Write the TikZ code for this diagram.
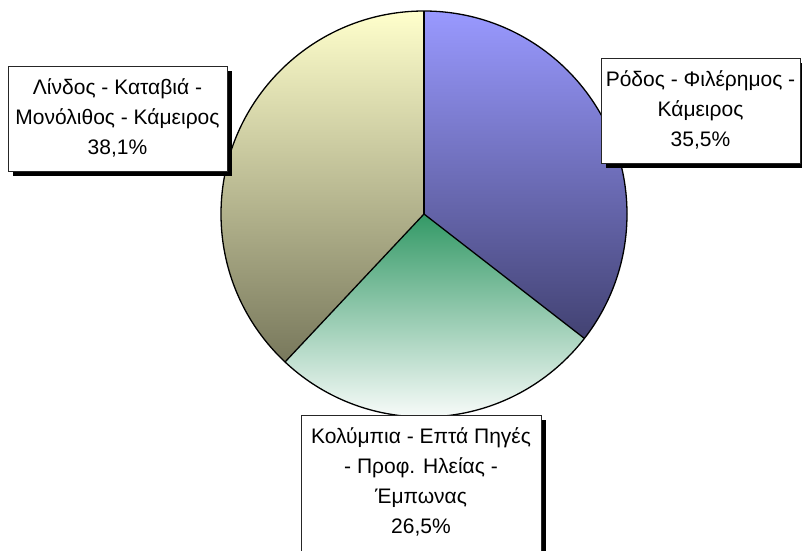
\documentclass[tikz,border=0pt]{standalone}
\usepackage{fontspec}
\setmainfont{Liberation Sans}
\usetikzlibrary{shadows}
\definecolor{bluetop}{HTML}{9999FF}
\definecolor{bluebot}{HTML}{424272}
\definecolor{greentop}{HTML}{339966}
\definecolor{yeltop}{HTML}{FFFFCC}
\definecolor{yelbot}{HTML}{78785C}
\begin{document}
\begin{tikzpicture}[x=1pt,y=1pt,
  lblbox/.style={draw=black!85, line width=0.8pt, fill=white, inner sep=0pt,
    drop shadow={shadow xshift=5pt, shadow yshift=-5pt, opacity=1, fill=black}},
  lbltext/.style={align=center, inner sep=0pt, font=\fontsize{21}{30}\selectfont},
  edge/.style={line width=1.3pt, black, line join=round}]
\useasboundingbox (0,0) rectangle (802,550);
\coordinate (C) at (424,336);
\def\R{203}
% slices
\shade[top color=bluetop, bottom color=bluebot]
  (C) -- ++(90:\R) arc[start angle=90, end angle=-37.8, radius=\R] -- cycle;
\shade[top color=greentop, bottom color=white]
  (C) -- ++(-37.8:\R) arc[start angle=-37.8, end angle=-133.2, radius=\R] -- cycle;
\shade[top color=yeltop, bottom color=yelbot]
  (C) -- ++(-133.2:\R) arc[start angle=-133.2, end angle=-270, radius=\R] -- cycle;
% outlines
\draw[edge] (C) circle[radius=\R];
\draw[edge] (C) -- ++(90:\R);
\draw[edge] (C) -- ++(-37.8:\R);
\draw[edge] (C) -- ++(-133.2:\R);
% label boxes
\node[lblbox, minimum width=219pt, minimum height=105pt] (Lbox) at (117.5,431.5) {};
\node[lbltext] (Ltxt) at (117.5,432) {Λίνδος - Καταβιά -\\Μονόλιθος - Κάμειρος\\38,1\%};
\node[lblbox, minimum width=199pt, minimum height=105pt] (Rbox) at (700.5,439.5) {};
\node[lbltext] (Rtxt) at (700.5,440) {Ρόδος - Φιλέρημος -\\Κάμειρος\\35,5\%};
\node[lblbox, minimum width=240pt, minimum height=145pt] (Bbox) at (421,62.5) {};
\node[lbltext] (Btxt) at (421,68) {Κολύμπια - Επτά Πηγές\\- Προφ. Ηλείας -\\Έμπωνας\\26,5\%};
\end{tikzpicture}
\end{document}
